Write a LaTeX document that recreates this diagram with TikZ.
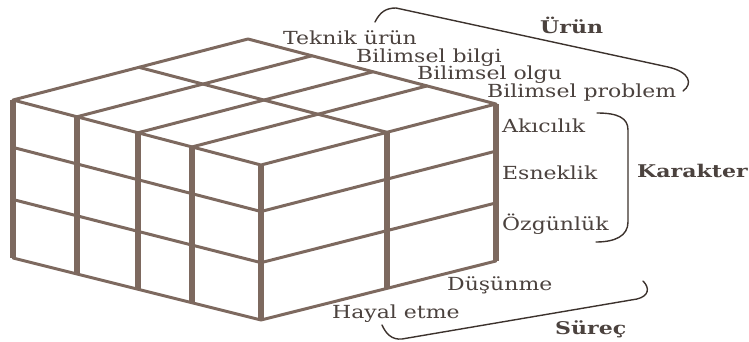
\documentclass[tikz,border=0pt]{standalone}
\usepackage{fontspec}
\setmainfont{DejaVu Serif}
\newfontfamily\lblfont{DejaVu Serif}[FakeStretch=1.22]
\newfontfamily\blblfont{DejaVu Serif}[FakeStretch=1.26]
\usetikzlibrary{calc}
\definecolor{cubecol}{RGB}{125,105,95}
\definecolor{txtcol}{RGB}{75,66,62}
\definecolor{bracecol}{RGB}{60,50,45}
\tikzset{
  hline/.style={draw=cubecol, line width=3pt, line cap=round, line join=round},
  vline/.style={draw=cubecol, line width=5.5pt, line cap=butt},
  lbl/.style={anchor=base west, inner sep=0pt, text=txtcol, font=\lblfont\fontsize{18}{20}\selectfont},
  blbl/.style={anchor=base west, inner sep=0pt, text=txtcol, font=\blblfont\bfseries\fontsize{17.5}{20}\selectfont},
  bracestyle/.style={draw=bracecol, line width=1.4pt, line cap=round}
}
\begin{document}
\begin{tikzpicture}[x=1pt,y=-1pt]
\useasboundingbox (0,0) rectangle (749,342);
% cube corners
\coordinate (L) at (13,100);
\coordinate (F) at (261,165);
\coordinate (R) at (496,104);
\coordinate (B) at (248,39);
\coordinate (Lb) at (13,258);
\coordinate (Fb) at (261,320);
\coordinate (Rb) at (496,261);
% top face
\draw[hline] (L) -- (F) -- (R) -- (B) -- cycle;
\foreach \f in {0.258,0.504,0.722}{
  \draw[hline] ($(L)!\f!(F)$) -- ($(B)!\f!(R)$);
}
\draw[hline] ($(L)!0.536!(B)$) -- ($(F)!0.536!(R)$);
% left face horizontals
\foreach \f in {0.30,0.63,1}{
  \draw[hline] ($(L)!\f!(Lb)$) -- ($(F)!\f!(Fb)$);
}
% right face horizontals
\foreach \f in {0.30,0.63,1}{
  \draw[hline] ($(F)!\f!(Fb)$) -- ($(R)!\f!(Rb)$);
}
% left face verticals
\foreach \f in {0,0.258,0.504,0.722,1}{
  \draw[vline] ($(L)!\f!(F)$) -- ($(Lb)!\f!(Fb)$);
}
% right face verticals
\foreach \f in {0.536,1}{
  \draw[vline] ($(F)!\f!(R)$) -- ($(Fb)!\f!(Rb)$);
}
% labels
\node[lbl] (t1) at (283,45) {Teknik ürün};
\node[lbl] (t2) at (356,63) {Bilimsel bilgi};
\node[lbl] (t3) at (417,80) {Bilimsel olgu};
\node[lbl] (t4) at (487,98) {Bilimsel problem};
\node[blbl] (urun) at (540,34) {Ürün};
\node[lbl] (k1) at (502,132) {Akıcılık};
\node[lbl] (k2) at (502,179) {Esneklik};
\node[lbl] (k3) at (502,230) {Özgünlük};
\node[blbl] (kar) at (637,177) {Karakter};
\node[lbl] (s1) at (447,290) {Düşünme};
\node[lbl] (s2) at (332,318) {Hayal etme};
\node[blbl] (sur) at (555,334) {Süreç};
% braces
\draw[bracestyle] (375,22) .. controls (380,12) and (386,8) .. (396,8)
  -- (668,67) .. controls (690,72) and (693,84) .. (683,91);
\draw[bracestyle] (597,113) .. controls (618,113) and (628,118) .. (628,130)
  -- (628,222) .. controls (628,236) and (615,242) .. (596,242);
\draw[bracestyle] (382,325) .. controls (386,334) and (392,340) .. (402,339)
  -- (637,299) .. controls (649,296) and (650,288) .. (643,281);
\end{tikzpicture}
\end{document}
